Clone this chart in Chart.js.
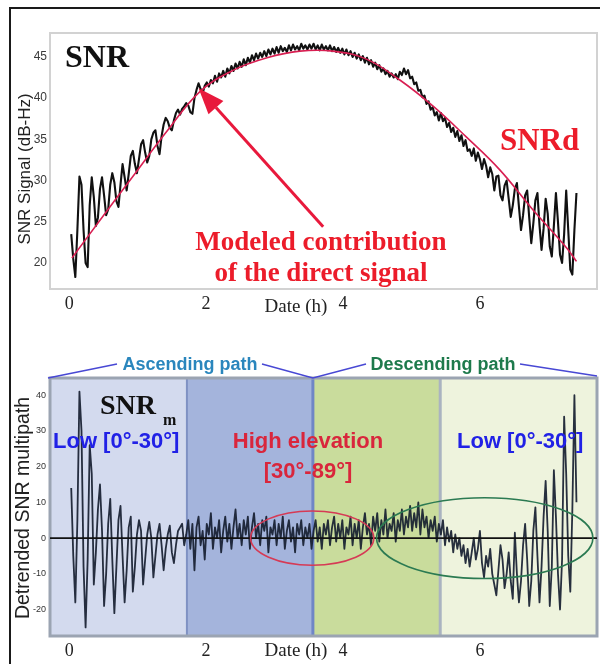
<!DOCTYPE html>
<html>
<head>
<meta charset="utf-8">
<title>SNR signal and detrended multipath</title>
<script src="https://cdn.jsdelivr.net/npm/chart.js@4/dist/chart.umd.min.js"></script>
<style>
  html, body { margin: 0; padding: 0; background: #fff; }
  #page { position: relative; width: 600px; height: 664px; overflow: hidden; background: #fff; }
  #topWrap { position: absolute; left: 0; top: 0; width: 600px; height: 330px; }
  #botWrap { position: absolute; left: 0; top: 330px; width: 600px; height: 334px; }
  #frame { position: absolute; left: 9px; top: 7px; width: 600px; height: 664px;
           border-left: 2px solid #1a1a1a; border-top: 2px solid #1a1a1a; pointer-events: none; }
</style>
</head>
<body>
<div id="page">
  <div id="topWrap"><canvas id="snrChart" width="600" height="330"></canvas></div>
  <div id="botWrap"><canvas id="mpChart" width="600" height="334"></canvas></div>
  <div id="frame"></div>
</div>
<script>
// ---- sampling of the satellite pass (hours after rise) ----
const SAMPLE_START_H = 0.03;
const SAMPLE_STEP_H = 0.03;

// observed SNR (dB-Hz), one value per sample
const snrObserved = [
  23.5, 20.5, 18.3, 24.0, 30.5, 29.5, 24.0, 20.0, 19.5, 27.0,
  30.4, 28.0, 24.5, 25.5, 29.0, 30.4, 28.2, 25.8, 26.5, 29.5,
  30.9, 29.8, 27.5, 26.8, 29.5, 32.0, 30.4, 28.8, 30.8, 33.0,
  33.6, 32.0, 30.9, 32.6, 34.4, 34.9, 33.4, 32.2, 33.0, 35.0,
  35.8, 36.1, 34.2, 33.2, 35.4, 36.8, 37.6, 37.2, 36.4, 36.1,
  37.3, 38.2, 38.6, 38.0, 38.7, 39.0, 39.4, 39.1, 38.3, 38.1,
  40.0, 41.0, 41.8, 41.1, 40.6, 41.5, 41.9, 41.4, 42.2, 41.8,
  42.7, 42.0, 43.0, 42.5, 43.3, 42.6, 43.6, 43.0, 43.9, 43.3,
  44.2, 43.6, 44.4, 43.8, 44.7, 44.0, 44.9, 44.3, 45.2, 44.6,
  45.4, 44.8, 45.5, 45.0, 45.7, 45.1, 45.9, 45.3, 46.0, 45.4,
  46.2, 45.5, 46.3, 45.7, 46.1, 45.6, 46.4, 45.8, 46.5, 45.9,
  46.3, 45.8, 46.6, 46.0, 46.4, 45.9, 46.5, 46.0, 46.6, 45.9,
  46.4, 45.8, 46.5, 45.9, 46.3, 45.8, 46.4, 45.7, 46.2, 45.6,
  46.1, 45.5, 46.0, 45.3, 45.9, 45.2, 45.7, 45.0, 45.5, 44.8,
  45.3, 44.6, 45.1, 44.3, 44.9, 44.1, 44.6, 43.8, 44.3, 43.5,
  44.0, 43.2, 43.6, 42.9, 43.3, 42.6, 43.0, 42.5, 42.9, 42.3,
  43.2, 42.8, 43.6, 42.9, 43.4, 42.4, 42.6, 41.7, 41.9, 40.9,
  41.0, 40.1, 40.3, 39.3, 39.6, 38.6, 38.9, 37.9, 38.3, 37.3,
  38.2, 37.2, 37.6, 36.5, 37.0, 35.9, 36.4, 35.3, 36.0, 34.8,
  35.5, 34.2, 34.9, 33.6, 33.8, 33.0, 33.9, 32.4, 33.4, 32.6,
  31.4, 32.6, 31.8, 30.4, 31.6, 30.8, 28.8, 30.5, 30.6, 28.2,
  27.6, 29.4, 30.0, 27.8, 25.6, 27.0, 29.0, 29.7, 26.8, 24.0,
  25.8, 28.2, 28.8, 25.5, 22.4, 24.8, 27.6, 28.5, 24.6, 21.6,
  24.2, 27.8, 26.0, 22.0, 20.8, 24.5, 28.5, 25.0, 21.0, 20.0,
  23.5, 28.8, 24.0, 19.2, 18.6, 24.0, 28.5
];

// detrended SNR multipath, same samples
const snrMultipath = [
  14, -5, -18, 5, 41, 30, -8, -25, -6, 26,
  18, -13, -4, 8, 15, 2, -19, -10, 4, 11,
  -6, -21, -8, 5, 9, -5, -18, -9, 3, 6,
  -15, -8, 1, 5, 2, -13, -6, 1, 4.5, 0,
  -11, -5, 1, 4, -2, -9, -3, 1, 3.5, -4,
  -7, -2, 2, 3, 4, -2, 1, 5, -3, 4,
  -9, 3, 6, -2, 2, -6, 4, 1, 7, -3,
  3, 0, 5, -4, 2, 6, -1, 4, -3, 3,
  8, 0, 4, -2, 5, 1, 6, -3, 3, 7,
  0, 4, -2, 5, 2, 6, -4, 3, 1, 5,
  -2, 4, 0, 6, -3, 2, 5, -1, 3, -4,
  4, 1, 5, -2, 3, 0, 4, -3, 2, 5,
  -1, 3, -3, 4, 1, 5, -2, 3, 6, -1,
  4, 0, 5, -3, 3, 1, 6, -2, 4, 0,
  5, -3, 3, 7, 1, 4, -2, 6, 2, 7,
  -1, 5, 1, 8, 0, 4, 2, 7, -1, 5,
  2, 8, 1, 6, 3, 9, 2, 7, 3, 10,
  1, 8, 3, 6, 0, 5, 2, 6, -1, 4,
  1, 5, -2, 3, -1, 2, -4, 1, -3, 0,
  -5, -2, -7, -3, -8, -4, 0, -6, -3, 2,
  -7, -11, -5, -8, -3, -10, -13, -16, -9, -2,
  -6, -14, -10, -4, -12, -17, 1.5, -10, -18, -12,
  -2, 4, -6, -19, -12, 2, 8.6, -5, -18, -8,
  6, 16, 2, -19, -8, 19, 6, -10, -20, -6,
  34, 18, -5, -15, 8, 40, 10
];

// modelled direct-signal contribution SNRd
const modelHours = [0.04, 0.45, 0.93, 1.43, 1.91, 2.4, 2.89, 3.37, 3.85, 4.35, 4.83, 5.32, 5.8, 6.29, 6.77, 7.27, 7.41];
const modelSnr   = [20.6, 25.2, 30.5, 36.0, 40.8, 43.4, 44.9, 45.7, 45.7, 44.7, 42.2, 39.0, 35.3, 31.3, 26.5, 21.8, 20.2];

// axis ticks
const hourTicks = [0, 2, 4, 6];
const snrTicks = [20, 25, 30, 35, 40, 45];
const multipathTicks = [-20, -10, 0, 10, 20, 30, 40];

// elevation band limits along the pass (hours)
const bandEdges = [1.72, 3.56, 5.42];

// ---- drawing helpers ----
const SERIF = "'Liberation Serif', 'Times New Roman', Times, serif";
const SANS = "'Liberation Sans', Arial, Helvetica, sans-serif";
const HOUR_MIN = -0.28, HOUR_MAX = 7.71;

const sampleHour = i => Math.round((SAMPLE_START_H + i * SAMPLE_STEP_H) * 100) / 100;
const toPoints = (xs, ys) => ys.map((y, i) => ({ x: xs(i), y }));

function text(ctx, s, x, y, font, color, align, baseline) {
  ctx.save();
  ctx.font = font;
  ctx.fillStyle = color;
  ctx.textAlign = align || 'left';
  ctx.textBaseline = baseline || 'alphabetic';
  ctx.fillText(s, x, y);
  ctx.restore();
}

function vText(ctx, s, x, y, font, color) {
  ctx.save();
  ctx.translate(x, y);
  ctx.rotate(-Math.PI / 2);
  ctx.font = font;
  ctx.fillStyle = color;
  ctx.textAlign = 'center';
  ctx.textBaseline = 'middle';
  ctx.fillText(s, 0, 0);
  ctx.restore();
}

function hourAxis(height) {
  return {
    type: 'linear', min: HOUR_MIN, max: HOUR_MAX,
    afterBuildTicks: s => { s.ticks = hourTicks.map(v => ({ value: v })); },
    ticks: { font: { family: SERIF, size: 18 }, color: '#222', padding: 4, maxRotation: 0, autoSkip: false },
    grid: { display: false, drawTicks: false },
    border: { display: false },
    afterFit: s => { s.height = height; }
  };
}

// ---- upper panel: SNR with modelled direct signal ----
const snrDecor = {
  id: 'snrDecor',
  afterDraw(chart) {
    const { ctx, chartArea: a, scales: { x, y } } = chart;
    ctx.save();
    ctx.strokeStyle = '#d2d2d2';
    ctx.lineWidth = 2;
    ctx.strokeRect(a.left, a.top, a.right - a.left, a.bottom - a.top);
    ctx.restore();

    text(ctx, 'SNR', 65, 67, `bold 32px ${SERIF}`, '#111');
    text(ctx, 'SNRd', 500, 150, `bold 31px ${SERIF}`, '#ec1c2a');
    text(ctx, 'Modeled contribution', 321, 250, `bold 27px ${SERIF}`, '#ec1c2a', 'center');
    text(ctx, 'of the direct signal', 321, 281, `bold 27px ${SERIF}`, '#ec1c2a', 'center');

    // arrow pointing at the model curve
    const tipX = x.getPixelForValue(1.89), tipY = y.getPixelForValue(41.2);
    const tailX = x.getPixelForValue(3.71), tailY = y.getPixelForValue(24.4);
    const dx = tipX - tailX, dy = tipY - tailY, len = Math.hypot(dx, dy);
    const ux = dx / len, uy = dy / len, head = 26, half = 10;
    const bx = tipX - ux * head, by = tipY - uy * head;
    ctx.save();
    ctx.strokeStyle = '#e8193c';
    ctx.fillStyle = '#e8193c';
    ctx.lineWidth = 3;
    ctx.beginPath();
    ctx.moveTo(tailX, tailY);
    ctx.lineTo(bx, by);
    ctx.stroke();
    ctx.beginPath();
    ctx.moveTo(tipX, tipY);
    ctx.lineTo(bx - uy * half, by + ux * half);
    ctx.lineTo(bx + uy * half, by - ux * half);
    ctx.closePath();
    ctx.fill();
    ctx.restore();

    vText(ctx, 'SNR Signal (dB-Hz)', 25, 169, `17px ${SANS}`, '#222');
    text(ctx, 'Date (h)', 296, 307, `19px ${SERIF}`, '#222', 'center', 'middle');
  }
};

new Chart(document.getElementById('snrChart'), {
  type: 'line',
  data: {
    datasets: [
      {
        label: 'SNR',
        data: toPoints(sampleHour, snrObserved),
        borderColor: '#111', borderWidth: 2.1, borderJoinStyle: 'round',
        pointRadius: 0, tension: 0, order: 1
      },
      {
        label: 'SNRd',
        data: toPoints(i => modelHours[i], modelSnr),
        borderColor: '#d81f52', borderWidth: 1.6,
        pointRadius: 0, tension: 0.4, order: 0
      }
    ]
  },
  options: {
    responsive: false, animation: false, events: [],
    layout: { padding: { top: 33, right: 3, left: 0, bottom: 0 } },
    plugins: { legend: { display: false }, tooltip: { enabled: false } },
    scales: {
      x: hourAxis(41),
      y: {
        min: 16.85, max: 47.9,
        afterBuildTicks: s => { s.ticks = snrTicks.map(v => ({ value: v })); },
        ticks: { font: { family: SANS, size: 12 }, color: '#3a3a3a', padding: 3 },
        grid: { display: false, drawTicks: false },
        border: { display: false },
        afterFit: s => { s.width = 50; }
      }
    }
  },
  plugins: [snrDecor]
});

// ---- lower panel: detrended multipath with elevation bands ----
const mpDecor = {
  id: 'mpDecor',
  beforeDatasetsDraw(chart) {
    const { ctx, chartArea: a, scales: { x } } = chart;
    const edges = [a.left, ...bandEdges.map(h => x.getPixelForValue(h)), a.right];
    const fills = ['#d3daee', '#a4b4dc', '#c9dc9c', '#eef3dd'];
    ctx.save();
    for (let i = 0; i < fills.length; i++) {
      ctx.fillStyle = fills[i];
      ctx.fillRect(edges[i], a.top, edges[i + 1] - edges[i], a.bottom - a.top);
    }
    const dividers = [['#7f91c3', 2], ['#6f86c6', 3], ['#aab3c0', 3]];
    dividers.forEach(([c, w], i) => {
      ctx.strokeStyle = c;
      ctx.lineWidth = w;
      ctx.beginPath();
      ctx.moveTo(edges[i + 1], a.top);
      ctx.lineTo(edges[i + 1], a.bottom);
      ctx.stroke();
    });
    ctx.strokeStyle = '#9ba4b2';
    ctx.lineWidth = 3;
    ctx.strokeRect(a.left, a.top, a.right - a.left, a.bottom - a.top);
    ctx.restore();
  },
  afterDatasetsDraw(chart) {
    const { ctx, chartArea: a, scales: { x, y } } = chart;
    const y0 = y.getPixelForValue(0);
    ctx.save();
    ctx.strokeStyle = '#111';
    ctx.lineWidth = 1.6;
    ctx.beginPath();
    ctx.moveTo(a.left, y0);
    ctx.lineTo(a.right, y0);
    ctx.stroke();

    const ellipse = (ch, rh, rv, color) => {
      const cx = x.getPixelForValue(ch);
      const rx = x.getPixelForValue(ch + rh) - cx;
      const ry = y0 - y.getPixelForValue(rv);
      ctx.strokeStyle = color;
      ctx.lineWidth = 1.6;
      ctx.beginPath();
      ctx.ellipse(cx, y0, rx, ry, 0, 0, Math.PI * 2);
      ctx.stroke();
    };
    ellipse(3.55, 0.9, 7.6, '#d63a55');
    ellipse(6.07, 1.58, 11.3, '#2b7a52');
    ctx.restore();
  },
  afterDraw(chart) {
    const { ctx, chartArea: a, scales: { x } } = chart;
    const mid = x.getPixelForValue(bandEdges[1]);
    const top = a.top, up = a.top - 14;

    ctx.save();
    ctx.strokeStyle = '#4848d4';
    ctx.lineWidth = 1.5;
    ctx.beginPath();
    ctx.moveTo(a.left - 2, top); ctx.lineTo(117, up);
    ctx.moveTo(262, up); ctx.lineTo(mid, top);
    ctx.lineTo(366, up);
    ctx.moveTo(520, up); ctx.lineTo(a.right, top - 2);
    ctx.stroke();
    ctx.restore();

    text(ctx, 'Ascending path', 190, up + 1, `bold 18px ${SANS}`, '#2a86bd', 'center', 'middle');
    text(ctx, 'Descending path', 443, up + 1, `bold 18px ${SANS}`, '#1e7a4c', 'center', 'middle');

    text(ctx, 'SNR', 100, 84, `bold 28px ${SERIF}`, '#111');
    text(ctx, 'm', 163, 95, `bold 16px ${SERIF}`, '#111');
    text(ctx, 'Low [0°-30°]', 53, 118, `bold 22px ${SANS}`, '#2121e6');
    text(ctx, 'High elevation', 308, 118, `bold 22px ${SANS}`, '#d9263c', 'center');
    text(ctx, '[30°-89°]', 308, 148, `bold 22px ${SANS}`, '#d9263c', 'center');
    text(ctx, 'Low [0°-30°]', 457, 118, `bold 22px ${SANS}`, '#2121e6');

    vText(ctx, 'Detrended SNR multipath', 24, 178, `19.5px ${SANS}`, '#222');
    text(ctx, 'Date (h)', 296, 321, `19px ${SERIF}`, '#222', 'center', 'middle');
  }
};

new Chart(document.getElementById('mpChart'), {
  type: 'line',
  data: {
    datasets: [{
      label: 'SNRm',
      data: toPoints(sampleHour, snrMultipath),
      borderColor: 'rgba(22, 30, 48, 0.92)', borderWidth: 1.8, borderJoinStyle: 'round',
      pointRadius: 0, tension: 0
    }]
  },
  options: {
    responsive: false, animation: false, events: [],
    layout: { padding: { top: 48, right: 3, left: 0, bottom: 0 } },
    plugins: { legend: { display: false }, tooltip: { enabled: false } },
    scales: {
      x: hourAxis(28),
      y: {
        min: -27.4, max: 44.8,
        afterBuildTicks: s => { s.ticks = multipathTicks.map(v => ({ value: v })); },
        ticks: { font: { family: SANS, size: 9 }, color: '#333', padding: 4 },
        grid: { display: false, drawTicks: false },
        border: { display: false },
        afterFit: s => { s.width = 50; }
      }
    }
  },
  plugins: [mpDecor]
});
</script>
</body>
</html>
